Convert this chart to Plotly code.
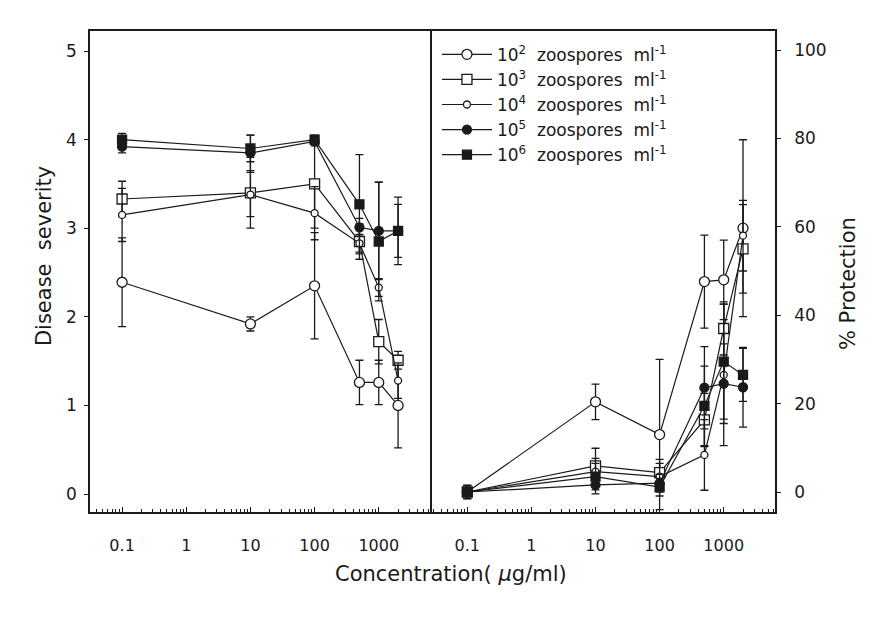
import plotly.graph_objects as go

conc = [0.1, 10, 100, 500, 1000, 2000]

labels = ["10<sup>2</sup>", "10<sup>3</sup>", "10<sup>4</sup>", "10<sup>5</sup>", "10<sup>6</sup>"]

# Disease severity (left panel)
sev_1e2 = [2.39, 1.92, 2.35, 1.26, 1.26, 1.00]
sev_1e2_err = [0.50, 0.08, 0.60, 0.25, 0.25, 0.48]
sev_1e3 = [3.33, 3.40, 3.50, 2.85, 1.72, 1.51]
sev_1e3_err = [0.20, 0.40, 0.50, 0.20, 0.25, 0.10]
sev_1e4 = [3.15, 3.38, 3.17, 2.83, 2.33, 1.28]
sev_1e4_err = [0.30, 0.25, 0.30, 0.10, 0.10, 0.20]
sev_1e5 = [3.92, 3.85, 3.98, 3.01, 2.97, 2.97]
sev_1e5_err = [0.07, 0.20, 0.05, 0.10, 0.55, 0.30]
sev_1e6 = [4.00, 3.90, 4.00, 3.27, 2.85, 2.97]
sev_1e6_err = [0.07, 0.15, 0.05, 0.56, 0.67, 0.38]

# % Protection (right panel)
pro_1e2 = [0.0, 20.4, 13.0, 47.6, 48.0, 59.7]
pro_1e2_err = [1.5, 4.0, 17.0, 10.5, 9.0, 20.0]
pro_1e3 = [0.0, 5.9, 4.4, 16.3, 37.0, 55.0]
pro_1e3_err = [1.5, 4.0, 3.0, 6.0, 6.0, 10.0]
pro_1e4 = [0.0, 4.6, 3.5, 8.4, 26.5, 58.0]
pro_1e4_err = [1.5, 3.0, 3.0, 8.0, 16.0, 8.0]
pro_1e5 = [0.0, 1.6, 2.0, 23.6, 24.5, 23.7]
pro_1e5_err = [1.0, 2.0, 2.0, 9.3, 9.0, 9.0]
pro_1e6 = [0.0, 3.5, 1.1, 19.5, 29.5, 26.5]
pro_1e6_err = [1.0, 3.0, 2.0, 9.0, 13.0, 6.0]

tick_vals = [0.1, 1, 10, 100, 1000]
tick_text = ["0.1", "1", "10", "100", "1000"]

INK = "#1a1a1a"
FONT = "DejaVu Sans"

styles = [
    dict(symbol="circle", size=10, fill="white"),
    dict(symbol="square", size=10, fill="white"),
    dict(symbol="circle", size=7, fill="white"),
    dict(symbol="circle", size=9, fill=INK),
    dict(symbol="square", size=9, fill=INK),
]

sev = [(sev_1e2, sev_1e2_err), (sev_1e3, sev_1e3_err), (sev_1e4, sev_1e4_err),
       (sev_1e5, sev_1e5_err), (sev_1e6, sev_1e6_err)]
pro = [(pro_1e2, pro_1e2_err), (pro_1e3, pro_1e3_err), (pro_1e4, pro_1e4_err),
       (pro_1e5, pro_1e5_err), (pro_1e6, pro_1e6_err)]

fig = go.Figure()
NB = "\u00a0"
for i, (lab, st) in enumerate(zip(labels, styles)):
    name = f"{lab}{NB}{NB}zoospores{NB}{NB}ml<sup>-1</sup>"
    for panel, (vals, errs) in (("L", sev[i]), ("R", pro[i])):
        fig.add_trace(go.Scatter(
            x=conc, y=vals,
            mode="lines+markers",
            name=name,
            showlegend=(panel == "L"),
            legendgroup=name,
            xaxis="x" if panel == "L" else "x2",
            yaxis="y" if panel == "L" else "y2",
            line=dict(color=INK, width=1.2),
            marker=dict(symbol=st["symbol"], size=st["size"], color=st["fill"],
                        line=dict(color=INK, width=1.3)),
            error_y=dict(type="data", array=errs, visible=True, color=INK, thickness=1.3, width=4),
        ))

minor_vals = [m * 10 ** e for e in range(-2, 4) for m in range(2, 10)]

axis_common = dict(
    type="log", showline=True, linecolor=INK, linewidth=1.5, mirror=True,
    tickvals=tick_vals, ticktext=tick_text, ticks="inside", ticklen=5, tickcolor=INK,
    minor=dict(ticks="inside", ticklen=3, tickcolor=INK, showgrid=False, tickvals=minor_vals),
    showgrid=False, zeroline=False,
    tickfont=dict(family=FONT, size=16, color=INK),
    ticklabelstandoff=18,
)

fig.update_layout(
    width=891, height=619,
    margin=dict(l=90, r=116, t=31, b=107),
    paper_bgcolor="white", plot_bgcolor="white",
    xaxis=dict(domain=[0, 0.4993], range=[-1.5, 3.83], anchor="y", **axis_common),
    xaxis2=dict(domain=[0.4993, 1], range=[-1.55, 3.8], anchor="y2", **axis_common),
    yaxis=dict(domain=[0, 1], anchor="x", range=[-0.203, 5.226], showline=True, linecolor=INK,
               linewidth=1.5, mirror=False, tickvals=[0, 1, 2, 3, 4, 5], ticks="outside", ticklen=4,
               tickcolor=INK, showgrid=False, zeroline=False,
               tickfont=dict(family=FONT, size=17, color=INK), ticklabelstandoff=4),
    yaxis2=dict(domain=[0, 1], anchor="x2", side="right", range=[-4.52, 104.3], showline=True,
                linecolor=INK, linewidth=1.5, mirror=True, tickvals=[0, 20, 40, 60, 80, 100],
                ticks="outside", ticklen=4, tickcolor=INK, showgrid=False, zeroline=False,
                tickfont=dict(family=FONT, size=17, color=INK), ticklabelstandoff=10),
    legend=dict(x=0.5065, y=0.988, xanchor="left", yanchor="top", bgcolor="rgba(0,0,0,0)",
                font=dict(family=FONT, size=17, color=INK), itemwidth=50, tracegroupgap=0),
    showlegend=True,
    annotations=[
        dict(text="Disease\u00a0\u00a0severity", xref="paper", yref="paper", x=-0.0876, y=0.532,
             textangle=-90, showarrow=False, font=dict(family=FONT, size=21, color=INK)),
        dict(text="% Protection", xref="paper", yref="paper", x=1.127, y=0.476,
             textangle=-90, showarrow=False, font=dict(family=FONT, size=21, color=INK)),
        dict(text="Concentration( <i>\u03bc</i>g/ml)", xref="paper", yref="paper", x=0.527, y=-0.158,
             showarrow=False, font=dict(family=FONT, size=21, color=INK)),
    ],
)

fig.write_html("out.html")
